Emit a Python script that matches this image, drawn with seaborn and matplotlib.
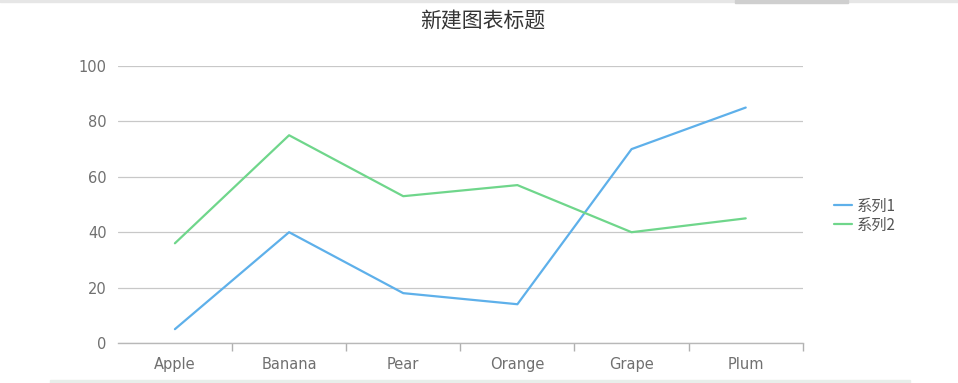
"""
Line chart: two series across fruit categories (新建图表标题).
"""

import matplotlib.pyplot as plt
import pandas as pd
import seaborn as sns
from matplotlib.patches import Rectangle
from matplotlib.ticker import FixedLocator

CATEGORIES = ["Apple", "Banana", "Pear", "Orange", "Grape", "Plum"]
SERIES_1 = [5, 40, 18, 14, 70, 85]
SERIES_2 = [36, 75, 53, 57, 40, 45]
SERIES_NAMES = ["系列1", "系列2"]
Y_TICKS = [0, 20, 40, 60, 80, 100]
TITLE = "新建图表标题"

COLORS = ["#5eb0ea", "#6fd68b"]

sns.set_theme(style="white")
plt.rcParams["font.family"] = ["DejaVu Sans", "Noto Sans CJK SC"]

df = pd.DataFrame({
    "category": CATEGORIES * 2,
    "value": SERIES_1 + SERIES_2,
    "series": [SERIES_NAMES[0]] * len(CATEGORIES) + [SERIES_NAMES[1]] * len(CATEGORIES),
})
df["x"] = df["category"].map({c: i for i, c in enumerate(CATEGORIES)})

fig = plt.figure(figsize=(9.58, 3.83), dpi=100)
ax = fig.add_axes([0.123, 0.1044, 0.715, 0.7233])

sns.lineplot(data=df, x="x", y="value", hue="series", palette=COLORS,
             linewidth=1.6, ax=ax, legend=True)

ax.set_xlim(-0.5, len(CATEGORIES) - 0.5)
ax.set_ylim(0, 100)
ax.set_xticks(range(len(CATEGORIES)))
ax.set_xticklabels(CATEGORIES)
ax.xaxis.set_minor_locator(FixedLocator([i + 0.5 for i in range(len(CATEGORIES))]))
ax.set_yticks(Y_TICKS)
ax.set_xlabel("")
ax.set_ylabel("")

ax.grid(axis="y", color="#c8c8c8", linewidth=0.9)
ax.set_axisbelow(True)
for side in ["top", "right", "left"]:
    ax.spines[side].set_visible(False)
ax.spines["bottom"].set_color("#b8b8b8")
ax.spines["bottom"].set_linewidth(1.0)

ax.tick_params(axis="x", which="major", bottom=False, length=0, pad=10,
               labelsize=10.5, labelcolor="#707070")
ax.tick_params(axis="x", which="minor", bottom=True, length=6, width=1.0,
               color="#b0b0b0", direction="out")
ax.tick_params(axis="y", length=0, pad=8, labelsize=10.5, labelcolor="#707070")

leg = ax.legend(loc="center left", bbox_to_anchor=(1.025, 0.46), frameon=False,
                handlelength=1.2, handletextpad=0.35, labelspacing=0.15,
                prop={"family": ["Noto Sans CJK SC", "DejaVu Sans"], "size": 11})
for text in leg.get_texts():
    text.set_color("#555555")

fig.text(0.504, 0.943, TITLE, ha="center", va="center", fontsize=15,
         color="#333333", family=["Noto Sans CJK SC", "DejaVu Sans"])

# page decorations around the chart
fig.patches.append(Rectangle((0, 0.995), 1, 0.005, transform=fig.transFigure,
                             color="#e6e6e6", zorder=0))
fig.patches.append(Rectangle((0.767, 0.993), 0.118, 0.007, transform=fig.transFigure,
                             color="#cfcfcf", zorder=0))
fig.patches.append(Rectangle((0.052, 0.0), 0.898, 0.008, transform=fig.transFigure,
                             color="#e8eeea", zorder=0))

fig.savefig("out.png", dpi=100)
plt.close(fig)
